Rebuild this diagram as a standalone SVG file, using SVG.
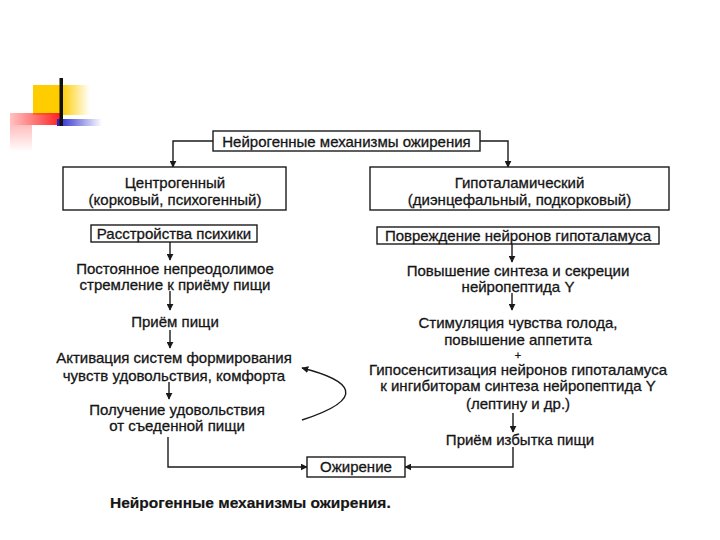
<svg xmlns="http://www.w3.org/2000/svg" width="720" height="540" viewBox="0 0 720 540">
<style>
text{font-family:"Liberation Sans",Arial,sans-serif;font-size:15px;fill:#151515;stroke:#151515;stroke-width:0.3;text-anchor:middle}
.box{fill:#fff;stroke:#1a1a1a;stroke-width:1.4}
.ln{fill:none;stroke:#1a1a1a;stroke-width:1.4}
.cap{font-weight:bold;text-anchor:start;font-size:15.5px;stroke-width:0.2}
.plus{font-size:11px}
</style>
<defs>
<marker id="ah" viewBox="0 0 10 10" refX="9" refY="5" markerWidth="7" markerHeight="7" orient="auto" markerUnits="userSpaceOnUse">
<path d="M0,0 L10,5 L0,10 z" fill="#1a1a1a"/>
</marker>
<linearGradient id="gy" x1="0" x2="1" y1="0" y2="0">
<stop offset="0" stop-color="#FFCC00"/><stop offset="0.5" stop-color="#FFCC00"/><stop offset="1" stop-color="#FFCC00" stop-opacity="0"/>
</linearGradient>
<linearGradient id="gr" x1="0" x2="1" y1="0" y2="0">
<stop offset="0" stop-color="#FF3333" stop-opacity="0.3"/><stop offset="1" stop-color="#FF2222"/>
</linearGradient>
<linearGradient id="grv" x1="0" x2="0" y1="0" y2="1">
<stop offset="0" stop-color="#FF4444" stop-opacity="0.35"/><stop offset="1" stop-color="#FF4444" stop-opacity="0"/>
</linearGradient>
<linearGradient id="gb" x1="0" x2="1" y1="0" y2="0">
<stop offset="0" stop-color="#2222CC"/><stop offset="1" stop-color="#2222CC" stop-opacity="0"/>
</linearGradient>
</defs>
<rect width="720" height="540" fill="#fff"/>
<g id="logo">
<rect x="33" y="85" width="57" height="30" fill="url(#gy)"/>
<rect x="10" y="125" width="22" height="27" fill="url(#grv)"/>
<rect x="10" y="113" width="50" height="12" fill="url(#gr)"/>
<rect x="57" y="119" width="45" height="7" fill="url(#gb)"/>
<rect x="59.5" y="78" width="3.5" height="48" fill="#111"/>
</g>
<g id="connectors">
<path class="ln" d="M213,141 H173 V167" marker-end="url(#ah)"/>
<path class="ln" d="M480,141 H508 V167" marker-end="url(#ah)"/>
<path class="ln" d="M170,242 V260" marker-end="url(#ah)"/>
<path class="ln" d="M170,291 V310" marker-end="url(#ah)"/>
<path class="ln" d="M170,330 V348" marker-end="url(#ah)"/>
<path class="ln" d="M169,382 V399" marker-end="url(#ah)"/>
<path class="ln" d="M302,420 C370,398 350,380 302,368" marker-end="url(#ah)"/>
<path class="ln" d="M168,437 V467 H307" marker-end="url(#ah)"/>
<path class="ln" d="M512,244 V262" marker-end="url(#ah)"/>
<path class="ln" d="M512,293 V310" marker-end="url(#ah)"/>
<path class="ln" d="M513,413 V432" marker-end="url(#ah)"/>
<path class="ln" d="M513,447 V467 H405" marker-end="url(#ah)"/>
</g>
<g id="n-root"><rect class="box" x="213" y="131" width="267" height="20"/><text x="346.5" y="146.5">Нейрогенные механизмы ожирения</text></g>
<g id="n-central"><rect class="box" x="63" y="167" width="223" height="43"/><text x="175" y="188">Центрогенный</text><text x="175" y="204.5">(корковый, психогенный)</text></g>
<g id="n-hypo"><rect class="box" x="370" y="167" width="299" height="43"/><text x="519.5" y="188">Гипоталамический</text><text x="519.5" y="204.5">(диэнцефальный, подкорковый)</text></g>
<g id="n-psy"><rect class="box" x="91" y="225" width="166" height="17"/><text x="174" y="239">Расстройства психики</text></g>
<g id="n-damage"><rect class="box" x="377" y="227" width="282" height="17"/><text x="518" y="241">Повреждение нейронов гипоталамуса</text></g>
<g id="n-urge"><text x="175" y="274">Постоянное непреодолимое</text><text x="175" y="290">стремление к приёму пищи</text></g>
<g id="n-eat"><text x="175" y="327">Приём пищи</text></g>
<g id="n-activ"><text x="174" y="363">Активация систем формирования</text><text x="174" y="381">чувств удовольствия, комфорта</text></g>
<g id="n-pleasure"><text x="177" y="415">Получение удовольствия</text><text x="177" y="431">от съеденной пищи</text></g>
<g id="n-synth"><text x="518" y="276">Повышение синтеза и секреции</text><text x="518" y="292">нейропептида Y</text></g>
<g id="n-hunger"><text x="518" y="328">Стимуляция чувства голода,</text><text x="518" y="345">повышение аппетита</text><text class="plus" x="518" y="359">+</text><text x="518" y="375">Гипосенситизация нейронов гипоталамуса</text><text x="518" y="391">к ингибиторам синтеза нейропептида Y</text><text x="518" y="409">(лептину и др.)</text></g>
<g id="n-excess"><text x="520" y="445">Приём избытка пищи</text></g>
<g id="n-obesity"><rect class="box" x="307" y="457" width="98" height="20"/><text x="356" y="472">Ожирение</text></g>
<text class="cap" x="110" y="508">Нейрогенные механизмы ожирения.</text>
</svg>
